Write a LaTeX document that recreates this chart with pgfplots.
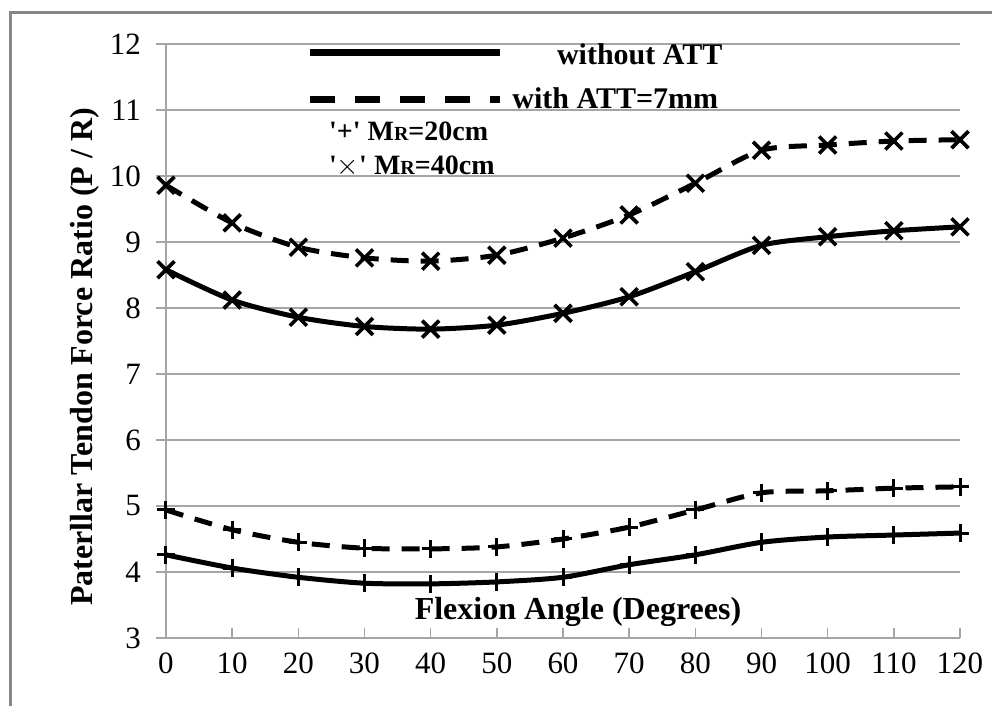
\documentclass[border=0pt]{standalone}
\usepackage{pgfplots}
\pgfplotsset{compat=1.18}
\usepackage{fontspec}
\setmainfont{Liberation Serif}

\definecolor{gridgray}{RGB}{165,165,165}
\definecolor{framegray}{RGB}{135,135,135}

\begin{document}
\begin{tikzpicture}
\begin{axis}[
    scale only axis,
    width=397pt,
    height=297pt,
    xmin=0, xmax=120,
    ymin=3, ymax=12,
    xtick={0,10,...,120},
    ytick={3,4,...,12},
    axis x line*=bottom,
    axis y line*=left,
    axis line style={gridgray, line width=0.8pt},
    ymajorgrids,
    grid style={gridgray, line width=0.8pt},
    tick align=inside,
    major tick length=5pt,
    tick style={gridgray, line width=0.8pt},
    ytick style={xshift=-5pt},
    tick label style={font=\fontsize{15.5}{18}\selectfont},
    yticklabel style={xshift=-9pt},
    xticklabel style={yshift=-4pt},
    /pgf/number format/assume math mode=true,
    clip=false,
    every axis plot/.append style={smooth, tension=0.45},
]
% M_R = 40 cm, with ATT = 7 mm
\addplot[black, line width=2.5pt, dash pattern=on 9pt off 6pt,
    mark=x, mark size=6pt, mark options={solid, line width=1.8pt}] coordinates {
    (0,9.86) (10,9.29) (20,8.92) (30,8.76) (40,8.71) (50,8.80) (60,9.06)
    (70,9.41) (80,9.89) (90,10.39) (100,10.47) (110,10.53) (120,10.55)
};
% M_R = 40 cm, without ATT
\addplot[black, line width=2.5pt,
    mark=x, mark size=6pt, mark options={solid, line width=1.8pt}] coordinates {
    (0,8.58) (10,8.12) (20,7.86) (30,7.72) (40,7.68) (50,7.74) (60,7.92)
    (70,8.17) (80,8.55) (90,8.95) (100,9.08) (110,9.17) (120,9.23)
};
% M_R = 20 cm, with ATT = 7 mm
\addplot[black, line width=2.5pt, dash pattern=on 9pt off 6pt,
    mark=+, mark size=4.5pt, mark options={solid, line width=1.5pt}] coordinates {
    (0,4.94) (10,4.64) (20,4.45) (30,4.36) (40,4.35) (50,4.38) (60,4.50)
    (70,4.68) (80,4.94) (90,5.20) (100,5.23) (110,5.27) (120,5.29)
};
% M_R = 20 cm, without ATT
\addplot[black, line width=2.5pt,
    mark=+, mark size=4.5pt, mark options={solid, line width=1.5pt}] coordinates {
    (0,4.26) (10,4.06) (20,3.92) (30,3.83) (40,3.82) (50,3.85) (60,3.92)
    (70,4.11) (80,4.26) (90,4.45) (100,4.53) (110,4.56) (120,4.59)
};
\end{axis}

% hand-made legend
\draw[black, line width=3.5pt] (72pt,292.5pt) -- (167pt,292.5pt);
\node[anchor=west, font=\fontsize{15}{17}\selectfont\bfseries] at (192pt,292pt) {without ATT};
\draw[black, line width=3.5pt, dash pattern=on 12.5pt off 10pt] (72pt,269pt) -- (167pt,269pt);
\node[anchor=west, font=\fontsize{15}{17}\selectfont\bfseries, inner sep=1pt] at (172pt,270pt) {with ATT=7mm};
\node[anchor=west, font=\fontsize{14}{16}\selectfont\bfseries] at (78pt,253.5pt)
    {\textquotesingle{}+\textquotesingle\ M{\fontsize{10}{10}\selectfont R}=20cm};
\node[anchor=west, font=\fontsize{14}{16}\selectfont\bfseries] at (78pt,236pt)
    {\textquotesingle{}$\times$\textquotesingle\ M{\fontsize{10}{10}\selectfont R}=40cm};

\node[font=\fontsize{16}{18}\selectfont\bfseries] at (206pt,13pt) {Flexion Angle (Degrees)};
\node[rotate=90, font=\fontsize{16}{18}\selectfont\bfseries] at (-40.5pt,140.5pt)
    {Paterllar Tendon Force Ratio (P / R)};

% chart frame (left and top edges)
\draw[framegray, line width=1.5pt] (-77.5pt,-34pt) -- (-77.5pt,312.5pt) -- (413pt,312.5pt);

\pgfresetboundingbox
\useasboundingbox (-83pt,-34pt) rectangle (413pt,319pt);
\end{tikzpicture}
\end{document}
